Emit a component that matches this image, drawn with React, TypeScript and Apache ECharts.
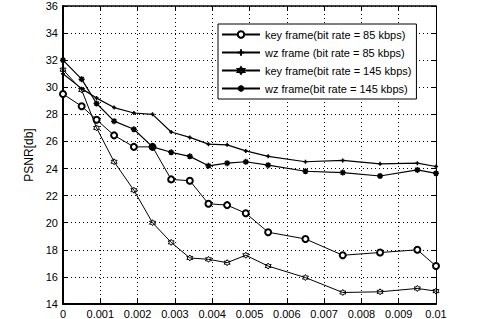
import React, { useEffect, useRef } from "react";
import * as echarts from "echarts";

const xTickLabels = ["0", "0.001", "0.002", "0.003", "0.004", "0.005", "0.006", "0.007", "0.008", "0.009", "0.01"];
const xValues = [0, 0.0005, 0.0009, 0.00137, 0.0019, 0.0024, 0.0029, 0.0034, 0.0039, 0.0044, 0.0049, 0.0055, 0.0065, 0.0075, 0.0085, 0.0095, 0.01];
const keyFrame85 = [29.5, 28.6, 27.6, 26.45, 25.6, 25.6, 23.2, 23.1, 21.4, 21.3, 20.7, 19.3, 18.8, 17.6, 17.8, 18.0, 16.8];
const wzFrame85 = [31.0, 29.9, 29.2, 28.5, 28.1, 28.0, 26.7, 26.3, 25.8, 25.75, 25.3, 24.9, 24.5, 24.6, 24.35, 24.4, 24.15];
const keyFrame145 = [31.3, 29.8, 27.0, 24.5, 22.4, 20.0, 18.55, 17.4, 17.3, 17.05, 17.6, 16.8, 15.95, 14.85, 14.9, 15.15, 14.95];
const wzFrame145 = [32.0, 30.6, 28.8, 27.5, 26.9, 25.6, 25.2, 24.9, 24.2, 24.4, 24.5, 24.25, 23.8, 23.7, 23.45, 23.9, 23.65];
const seriesNames = [
  "key frame(bit rate = 85 kbps)",
  "wz frame (bit rate = 85 kbps)",
  "key frame(bit rate = 145 kbps)",
  "wz frame(bit rate = 145 kbps)",
];

const FONT = "'Liberation Sans', Arial, sans-serif";
const plusPath = "path://M5,0L5,10M0,5L10,5";
const asteriskPath = "path://M5,0L5,10M0,5L10,5M1.5,1.5L8.5,8.5M8.5,1.5L1.5,8.5";
const hexagramPath = "path://M5,0L6.44,2.5L9.33,2.5L7.89,5L9.33,7.5L6.44,7.5L5,10L3.56,7.5L0.67,7.5L2.11,5L0.67,2.5L3.56,2.5Z";

export default function App() {
  const ref = useRef<HTMLDivElement>(null);
  useEffect(() => {
    if (!ref.current) return;
    const chart = echarts.init(ref.current, undefined, { renderer: "svg" });
    const zip = (ys: number[]) => xValues.map((x, i) => [x, ys[i]]);
    const base = {
      type: "line",
      lineStyle: { color: "#000", width: 1 },
      emphasis: { disabled: true },
    };
    const option: any = {
      animation: false,
      backgroundColor: "#fff",
      grid: { left: 63, top: 6, right: 47, bottom: 15, containLabel: false },
      legend: {
        orient: "vertical",
        left: 218,
        top: 24,
        backgroundColor: "#fff",
        borderColor: "#000",
        borderWidth: 1,
        borderRadius: 0,
        padding: [4, 5, 4, 3],
        itemWidth: 38,
        itemHeight: 8,
        itemGap: 5,
        textStyle: { fontFamily: FONT, fontSize: 11, color: "#000", lineHeight: 13 },
        data: seriesNames,
      },
      xAxis: [
        {
          type: "value",
          min: 0,
          max: 0.01,
          interval: 0.001,
          axisLine: { show: true, onZero: false, lineStyle: { color: "#000", width: 2 } },
          axisTick: { show: true, inside: true, length: 5, lineStyle: { color: "#000" } },
          axisLabel: {
            fontFamily: FONT,
            fontSize: 11,
            color: "#000",
            margin: 4,
            formatter: (v: number) => xTickLabels[Math.round(v / 0.001)] ?? "",
          },
          splitLine: { show: true, lineStyle: { color: "#000", type: [1, 3], width: 1 } },
        },
        {
          type: "value",
          position: "top",
          min: 0,
          max: 0.01,
          interval: 0.001,
          axisLine: { show: true, onZero: false, lineStyle: { color: "#000", width: 1.5 } },
          axisTick: { show: true, inside: true, length: 5, lineStyle: { color: "#000" } },
          axisLabel: { show: false },
          splitLine: { show: false },
        },
      ],
      yAxis: [
        {
          type: "value",
          min: 14,
          max: 36,
          interval: 2,
          name: "PSNR[db]",
          nameLocation: "middle",
          nameGap: 19,
          nameTextStyle: { fontFamily: FONT, fontSize: 12, color: "#000" },
          axisLine: { show: true, onZero: false, lineStyle: { color: "#000", width: 2 } },
          axisTick: { show: true, inside: true, length: 5, lineStyle: { color: "#000" } },
          axisLabel: { fontFamily: FONT, fontSize: 11, color: "#000", margin: 5 },
          splitLine: { show: true, lineStyle: { color: "#000", type: [1, 3], width: 1 } },
        },
        {
          type: "value",
          position: "right",
          min: 14,
          max: 36,
          interval: 2,
          axisLine: { show: true, onZero: false, lineStyle: { color: "#000", width: 1 } },
          axisTick: { show: true, inside: true, length: 5, lineStyle: { color: "#000" } },
          axisLabel: { show: false },
          splitLine: { show: false },
        },
      ],
      series: [
        {
          ...base,
          name: seriesNames[0],
          data: zip(keyFrame85),
          symbol: "emptyCircle",
          symbolSize: 6,
          itemStyle: { color: "#000", borderColor: "#000", borderWidth: 1 },
        },
        {
          ...base,
          name: seriesNames[1],
          data: zip(wzFrame85),
          symbol: plusPath,
          symbolSize: 4,
          lineStyle: { color: "#000", width: 1.2 },
          itemStyle: { color: "#000", borderColor: "#000", borderWidth: 1.5 },
        },
        {
          ...base,
          name: seriesNames[2],
          data: zip(keyFrame145),
          symbol: hexagramPath,
          symbolSize: 6,
          itemStyle: { color: "rgba(0,0,0,0)", borderColor: "#000", borderWidth: 1 },
        },
        {
          ...base,
          name: seriesNames[3],
          data: zip(wzFrame145),
          symbol: asteriskPath,
          symbolSize: 6,
          lineStyle: { color: "#000", width: 1.2 },
          itemStyle: { color: "#000", borderColor: "#000", borderWidth: 1.5 },
        },
      ],
    };
    chart.setOption(option);
    return () => chart.dispose();
  }, []);
  return (
    <div
      ref={ref}
      style={{ position: "fixed", left: 0, top: 0, width: 483, height: 319, background: "#fff" }}
    />
  );
}
